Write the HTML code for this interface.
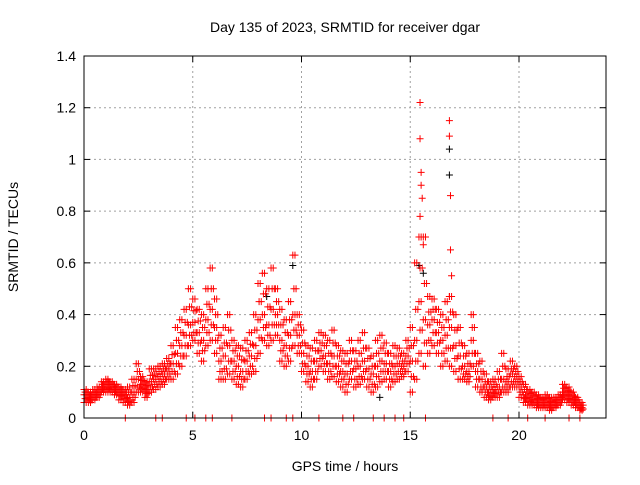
<!DOCTYPE html>
<html><head><meta charset="utf-8"><style>
body{margin:0;background:#fff;width:640px;height:480px;overflow:hidden}
text{font-family:"Liberation Sans",sans-serif;font-size:14px;fill:#000}
</style></head><body>
<svg id="chart" width="640" height="480">
<text x="345" y="32" text-anchor="middle">Day 135 of 2023, SRMTID for receiver dgar</text>
<text x="345" y="471" text-anchor="middle">GPS time / hours</text>
<text transform="translate(18,237) rotate(-90)" text-anchor="middle">SRMTID / TECUs</text>
<g id="grid"></g><g id="marks"></g><g id="axes"></g>
</svg>
<script>
const times=[0,0.2,0.4,0.6,0.8,1,1.2,1.4,1.6,1.8,2,2.2,2.4,2.6,2.8,3,3.2,3.4,3.6,3.8,4,4.2,4.4,4.6,4.8,5,5.2,5.4,5.6,5.8,6,6.2,6.4,6.6,6.8,7,7.2,7.4,7.6,7.8,8,8.2,8.4,8.6,8.8,9,9.2,9.4,9.6,9.8,10,10.2,10.4,10.6,10.8,11,11.2,11.4,11.6,11.8,12,12.2,12.4,12.6,12.8,13,13.2,13.4,13.6,13.8,14,14.2,14.4,14.6,14.8,15,15.2,15.4,15.6,15.8,16,16.2,16.4,16.6,16.8,17,17.2,17.4,17.6,17.8,18,18.2,18.4,18.6,18.8,19,19.2,19.4,19.6,19.8,20,20.2,20.4,20.6,20.8,21,21.2,21.4,21.6,21.8,22,22.2,22.4,22.6,22.8];
const lo=[.06,.06,.07,.08,.10,.10,.10,.09,.07,.06,.05,.06,.10,.10,.08,.10,.11,.12,.13,.15,.15,.17,.20,.24,.28,.30,.25,.22,.28,.30,.25,.15,.15,.17,.15,.13,.12,.15,.17,.18,.25,.30,.28,.30,.32,.22,.20,.22,.28,.25,.18,.14,.12,.15,.20,.18,.15,.16,.14,.12,.10,.15,.12,.13,.15,.12,.10,.12,.14,.15,.12,.14,.15,.16,.18,.10,.15,.25,.20,.25,.28,.25,.20,.22,.20,.18,.15,.15,.14,.20,.12,.10,.08,.07,.08,.08,.10,.10,.12,.12,.08,.06,.05,.05,.04,.04,.04,.03,.04,.05,.07,.06,.05,.04,.03];
const q1=[.075,.07,.08,.09,.11,.115,.11,.10,.085,.075,.065,.08,.12,.115,.095,.12,.13,.14,.15,.17,.18,.21,.24,.28,.32,.33,.29,.26,.33,.36,.30,.18,.19,.22,.18,.16,.15,.18,.20,.23,.31,.35,.32,.36,.36,.26,.24,.27,.34,.28,.21,.17,.15,.18,.23,.21,.18,.20,.17,.15,.13,.18,.15,.16,.18,.15,.13,.16,.18,.18,.15,.17,.18,.18,.21,.16,.22,.34,.29,.30,.33,.29,.25,.27,.27,.23,.19,.17,.16,.25,.15,.12,.10,.085,.095,.10,.12,.12,.14,.14,.10,.075,.065,.06,.05,.05,.05,.04,.05,.06,.085,.075,.06,.05,.035];
const mid=[.09,.08,.09,.10,.12,.13,.12,.11,.10,.09,.08,.10,.15,.13,.11,.14,.15,.16,.17,.19,.21,.25,.28,.32,.36,.37,.33,.30,.38,.42,.35,.22,.24,.28,.22,.20,.18,.22,.24,.28,.38,.40,.36,.42,.40,.30,.28,.32,.40,.32,.25,.20,.18,.22,.26,.24,.21,.24,.20,.18,.17,.22,.19,.20,.22,.19,.17,.20,.22,.21,.18,.20,.21,.20,.24,.22,.30,.45,.38,.36,.38,.33,.30,.32,.35,.28,.24,.20,.18,.30,.18,.15,.12,.10,.11,.12,.15,.14,.17,.16,.12,.09,.08,.07,.06,.06,.06,.05,.06,.07,.10,.09,.07,.06,.04];
const q3=[.10,.09,.10,.11,.13,.14,.13,.12,.11,.10,.10,.125,.18,.145,.125,.165,.17,.18,.19,.21,.245,.30,.33,.37,.43,.415,.375,.35,.44,.50,.40,.27,.29,.34,.26,.24,.225,.26,.285,.34,.45,.48,.43,.50,.45,.36,.33,.38,.50,.36,.29,.24,.22,.26,.29,.28,.25,.29,.24,.22,.21,.26,.22,.25,.27,.23,.20,.25,.27,.25,.21,.24,.24,.22,.27,.28,.42,.58,.52,.41,.42,.37,.35,.38,.41,.34,.29,.24,.21,.35,.21,.18,.14,.12,.13,.15,.20,.16,.19,.18,.14,.11,.095,.085,.075,.07,.075,.065,.07,.08,.115,.105,.085,.07,.05];
const hi=[.11,.10,.11,.12,.14,.15,.14,.13,.12,.11,.12,.15,.21,.16,.14,.19,.19,.20,.21,.23,.28,.35,.38,.42,.50,.46,.42,.40,.50,.58,.46,.32,.35,.40,.30,.28,.27,.30,.33,.40,.52,.56,.50,.58,.50,.42,.38,.45,.63,.40,.34,.28,.27,.30,.33,.32,.30,.34,.28,.26,.25,.30,.26,.30,.33,.27,.24,.30,.32,.29,.25,.28,.27,.25,.30,.35,.60,.70,.70,.47,.46,.42,.40,.45,.47,.40,.35,.28,.25,.40,.25,.22,.17,.14,.15,.18,.25,.19,.22,.20,.16,.13,.11,.10,.09,.08,.09,.08,.08,.09,.13,.12,.10,.08,.06];
const spikeT=[15.45,15.45,15.5,15.5,15.55,15.6,15.45,16.8,16.8,16.85,16.85,16.9,16.8];
const spikeV=[1.22,1.08,0.95,0.90,0.85,0.67,0.78,1.15,1.09,0.86,0.65,0.55,0.47];
const zeroT=[1.9,3.3,3.6,4.7,5.1,5.6,5.9,6.8,8.3,8.6,9.3,9.6,10.8,11.9,12.4,13.3,13.8,14.3,14.7,15.7,18.8,19.5,20.4,21.2,22.3,22.8];
const blackT=[9.6,15.4,15.6,16.8,16.8,13.6,8.4];
const blackV=[0.59,0.59,0.56,1.04,0.94,0.08,0.47];
const xTicks=[0,5,10,15,20];
const yTicks=[0,0.2,0.4,0.6,0.8,1,1.2,1.4];
const yLabels=["0","0.2","0.4","0.6","0.8","1","1.2","1.4"];
const L=84,R=606,T=56,B=418,XMAX=24,YMAX=1.4;
const X=v=>L+v/XMAX*(R-L), Y=v=>B-v/YMAX*(B-T);
const NS="http://www.w3.org/2000/svg";
function mk(tag,parent,attrs){const e=document.createElementNS(NS,tag);for(const k in attrs)e.setAttribute(k,attrs[k]);parent.appendChild(e);return e;}
const grid=document.getElementById('grid'),axes=document.getElementById('axes'),marks=document.getElementById('marks');
yTicks.forEach((v,i)=>{
 if(v>0&&v<YMAX){const g=mk('line',grid,{x1:L,x2:R,y1:Y(v),y2:Y(v),stroke:'#a0a0a0','stroke-dasharray':'2,3'});
 
 }
 const t=mk('line',axes,{x1:L,x2:L+6,y1:Y(v),y2:Y(v),stroke:'#000'});
 
 
 mk('line',axes,{x1:R,x2:R-6,y1:Y(v),y2:Y(v),stroke:'#000'});
 const l=mk('text',axes,{x:L-8,y:Y(v)+5,'text-anchor':'end'});l.textContent=yLabels[i];
 
 
});
xTicks.forEach(v=>{
 if(v>0){const g=mk('line',grid,{x1:X(v),x2:X(v),y1:T,y2:B,stroke:'#a0a0a0','stroke-dasharray':'2,3'});
 
 }
 const t=mk('line',axes,{x1:X(v),x2:X(v),y1:B,y2:B-6,stroke:'#000'});
 
 
 mk('line',axes,{x1:X(v),x2:X(v),y1:T,y2:T+6,stroke:'#000'});
 const l=mk('text',axes,{x:X(v),y:B+22,'text-anchor':'middle'});l.textContent=String(v);
 
 
});
const frame=mk('rect',axes,{x:L,y:T,width:R-L,height:B-T,fill:'none',stroke:'#000'});


function plus(t,v,col,name){const x=X(t),y=Y(v);
 const p=mk('path',marks,{d:`M${x-3.5} ${y}h7M${x} ${y-3.5}v7`,stroke:col,'stroke-width':1,fill:'none'});
 
 }
blackT.forEach((t,i)=>plus(t,blackV[i],'#000','black-point'));
times.forEach((t,i)=>{
 plus(t,lo[i],'#f00','red-point');plus(t+0.1,lo[i],'#f00','red-point');
 plus(t+0.05,q1[i],'#f00','red-point');plus(t+0.15,q1[i],'#f00','red-point');
 plus(t,mid[i],'#f00','red-point');plus(t+0.1,mid[i],'#f00','red-point');
 plus(t+0.05,q3[i],'#f00','red-point');plus(t+0.15,q3[i],'#f00','red-point');
 plus(t,hi[i],'#f00','red-point');plus(t+0.1,hi[i],'#f00','red-point');
});
spikeT.forEach((t,i)=>plus(t,spikeV[i],'#f00','spike-point'));
zeroT.forEach(t=>plus(t,0,'#f00','zero-point'));
</script>
</body></html>
